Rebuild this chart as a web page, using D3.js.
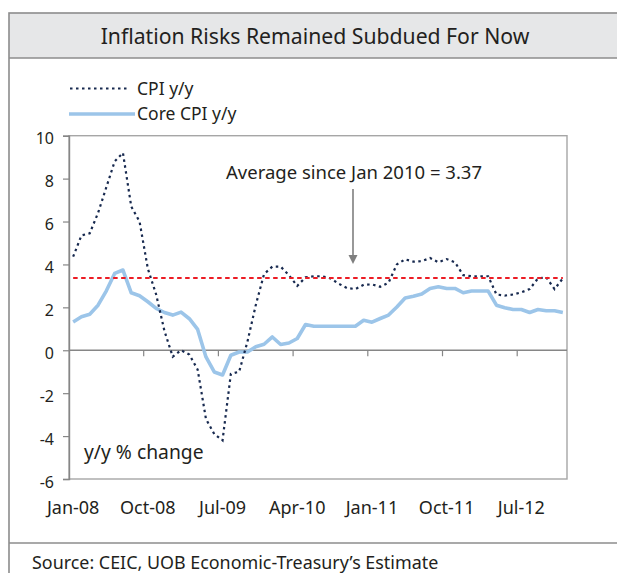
<!DOCTYPE html>
<html>
<head>
<meta charset="utf-8">
<script src="https://cdn.jsdelivr.net/npm/d3@7"></script>
<style>
  body { margin: 0; background: #fff; }
  svg { display: block; font-family: "Noto Sans", sans-serif; }
</style>
</head>
<body>
<svg id="chart" width="617" height="573"></svg>
<script>
"use strict";

// monthly categories, Jan-08 .. Dec-12
var months = d3.timeMonth.range(new Date(2008, 0, 1), new Date(2013, 0, 1));

var tickLabels = ["Jan-08", "Oct-08", "Jul-09", "Apr-10", "Jan-11", "Oct-11", "Jul-12"];
var yTicks = [-6, -4, -2, 0, 2, 4, 6, 8, 10];

var cpi = [
	4.36, 5.35, 5.45, 6.4, 7.6, 8.8, 9.2, 6.7, 6.0, 3.8,
	2.6, 0.9, -0.3, 0.0, -0.2, -0.9, -3.2, -3.9, -4.2, -1.1,
	-1.0, 0.4, 2.1, 3.55, 3.9, 3.9, 3.5, 3.0, 3.4, 3.45,
	3.45, 3.35, 3.1, 2.9, 2.85, 3.05, 3.07, 2.96, 3.15, 4.0,
	4.24, 4.13, 4.15, 4.3, 4.1, 4.25, 4.1, 3.5, 3.45, 3.45,
	3.45, 2.6, 2.55, 2.6, 2.7, 2.85, 3.35, 3.4, 2.85, 3.35
];

var coreCpi = [
	1.32, 1.56, 1.68, 2.10, 2.77, 3.58, 3.74, 2.68, 2.54, 2.26,
	1.95, 1.76, 1.64, 1.78, 1.47, 0.97, -0.31, -1.01, -1.15, -0.23,
	-0.08, -0.08, 0.16, 0.28, 0.62, 0.27, 0.34, 0.55, 1.20, 1.12,
	1.12, 1.12, 1.12, 1.12, 1.12, 1.40, 1.31, 1.48, 1.64, 2.02,
	2.44, 2.52, 2.62, 2.88, 2.96, 2.88, 2.88, 2.68, 2.76, 2.76,
	2.76, 2.10, 1.98, 1.90, 1.90, 1.76, 1.90, 1.84, 1.84, 1.76
];

var avgValue = 3.37;
var avgLine = months.map(function () { return avgValue; });

var svg = d3.select("#chart");

/* ---- frame, title band, source band ---- */
svg.append("rect")
	.attr("x", 9).attr("y", 13)
	.attr("width", 640).attr("height", 45)
	.attr("fill", "#e6e7e8");

svg.append("rect")
	.attr("x", 9).attr("y", 13)
	.attr("width", 640).attr("height", 600)
	.attr("fill", "none")
	.attr("stroke", "#8c8c8c")
	.attr("stroke-width", 1.6);

svg.append("line")
	.attr("x1", 9).attr("x2", 640)
	.attr("y1", 58).attr("y2", 58)
	.attr("stroke", "#8c8c8c").attr("stroke-width", 1.4);

svg.append("line")
	.attr("x1", 9).attr("x2", 640)
	.attr("y1", 543).attr("y2", 543)
	.attr("stroke", "#8c8c8c").attr("stroke-width", 1.4);

svg.append("text")
	.attr("x", 315).attr("y", 44)
	.attr("text-anchor", "middle")
	.attr("font-size", 21.2)
	.attr("fill", "#231f20")
	.text("Inflation Risks Remained Subdued For Now");

svg.append("text")
	.attr("x", 32).attr("y", 569)
	.attr("font-size", 17.9)
	.attr("fill", "#231f20")
	.text("Source: CEIC, UOB Economic-Treasury\u2019s Estimate");

/* ---- scales ---- */
var plot = { left: 69, right: 567, top: 135.7, bottom: 479 };

var x = d3.scaleBand()
	.domain(d3.range(months.length))
	.range([plot.left, plot.right])
	.paddingInner(0).paddingOuter(0);

var y = d3.scaleLinear()
	.domain([-6, 10])
	.range([plot.bottom, plot.top]);

var cx = function (i) { return x(i) + x.bandwidth() / 2; };

/* plot area border */
svg.append("rect")
	.attr("x", plot.left).attr("y", plot.top)
	.attr("width", plot.right - plot.left)
	.attr("height", plot.bottom - plot.top)
	.attr("fill", "none")
	.attr("stroke", "#a6a6a6")
	.attr("stroke-width", 1.4);

/* y axis, plain hyphen for negatives like the source */
var yAxis = svg.append("g")
	.attr("transform", "translate(" + plot.left + ",0)")
	.call(d3.axisLeft(y).tickValues(yTicks)
		.tickFormat(function (d) { return String(d); })
		.tickSize(6).tickPadding(9));

yAxis.select(".domain").attr("stroke", "#868686").attr("stroke-width", 1.4);
yAxis.selectAll(".tick line").attr("stroke", "#868686").attr("stroke-width", 1.2);
yAxis.selectAll(".tick text")
	.attr("font-family", "Noto Sans")
	.attr("font-size", 16)
	.attr("fill", "#231f20")
	.attr("dy", "0.5em");

/* zero line with month ticks */
var tickIdx = tickLabels.map(function (d, i) { return i * 9; });

svg.append("line")
	.attr("x1", plot.left).attr("x2", plot.right)
	.attr("y1", y(0)).attr("y2", y(0))
	.attr("stroke", "#868686").attr("stroke-width", 1.4);

svg.append("g").selectAll("line")
	.data(tickIdx.slice(1))
	.join("line")
	.attr("x1", function (d) { return x(d); })
	.attr("x2", function (d) { return x(d); })
	.attr("y1", y(0)).attr("y2", y(0) + 6)
	.attr("stroke", "#868686").attr("stroke-width", 1.2);

/* category labels (low position) */
var xAxis = svg.append("g")
	.attr("transform", "translate(0," + plot.bottom + ")")
	.call(d3.axisBottom(x).tickValues(tickIdx)
		.tickFormat(function (d, i) { return tickLabels[i]; })
		.tickSize(0).tickPadding(22));

xAxis.select(".domain").remove();
xAxis.selectAll(".tick text")
	.attr("font-family", "Noto Sans")
	.attr("font-size", 18)
	.attr("fill", "#231f20");

/* ---- series ---- */
var line = d3.line()
	.x(function (d, i) { return cx(i); })
	.y(function (d) { return y(d); });

svg.append("path")
	.datum(coreCpi)
	.attr("d", line)
	.attr("fill", "none")
	.attr("stroke", "#9cc5e9")
	.attr("stroke-width", 3.6)
	.attr("stroke-linejoin", "round");

svg.append("path")
	.datum(cpi)
	.attr("d", line)
	.attr("fill", "none")
	.attr("stroke", "#17294f")
	.attr("stroke-width", 2.2)
	.attr("stroke-dasharray", "2.5,3.5");

svg.append("path")
	.datum(avgLine)
	.attr("d", line)
	.attr("fill", "none")
	.attr("stroke", "#ec1c24")
	.attr("stroke-width", 2)
	.attr("stroke-dasharray", "4.5,3.5");

/* ---- annotation ---- */
svg.append("text")
	.attr("x", 354).attr("y", 179)
	.attr("text-anchor", "middle")
	.attr("font-size", 18.5)
	.attr("fill", "#231f20")
	.text("Average since Jan 2010 = 3.37");

svg.append("line")
	.attr("x1", 353).attr("x2", 353)
	.attr("y1", 189).attr("y2", 256)
	.attr("stroke", "#7f7f7f").attr("stroke-width", 1.6);

svg.append("path")
	.attr("d", "M348.5,255 L357.5,255 L353,264 Z")
	.attr("fill", "#7f7f7f");

svg.append("text")
	.attr("x", 84).attr("y", 459)
	.attr("font-size", 19.3)
	.attr("fill", "#231f20")
	.text("y/y % change");

/* ---- legend ---- */
var legend = svg.append("g");

legend.append("line")
	.attr("x1", 70).attr("x2", 129)
	.attr("y1", 88.5).attr("y2", 88.5)
	.attr("stroke", "#17294f").attr("stroke-width", 2.2)
	.attr("stroke-dasharray", "2.5,3.5");

legend.append("text")
	.attr("x", 137).attr("y", 95)
	.attr("font-size", 17.5)
	.attr("fill", "#231f20")
	.text("CPI y/y");

legend.append("line")
	.attr("x1", 69).attr("x2", 135)
	.attr("y1", 114).attr("y2", 114)
	.attr("stroke", "#9cc5e9").attr("stroke-width", 3.6);

legend.append("text")
	.attr("x", 137).attr("y", 119.5)
	.attr("font-size", 17.5)
	.attr("fill", "#231f20")
	.text("Core CPI y/y");
</script>
</body>
</html>
